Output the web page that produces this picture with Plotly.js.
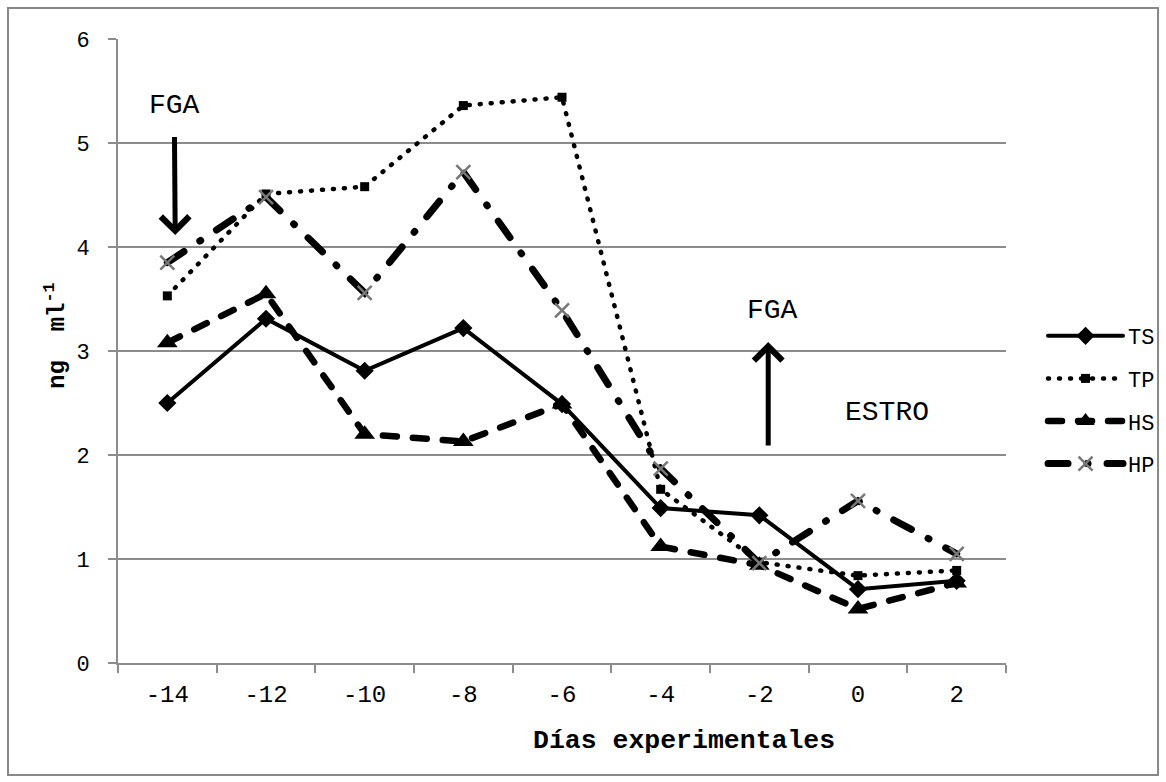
<!DOCTYPE html>
<html>
<head>
<meta charset="utf-8">
<script src="https://cdn.plot.ly/plotly-3.0.1.min.js"></script>
<style>
  html, body { margin: 0; padding: 0; background: #fff; }
  #chart { width: 1166px; height: 782px; }
  .scatterlayer path.js-line, .legend path.js-line { stroke-linecap: round !important; }
</style>
</head>
<body>
<div id="chart"></div>
<script>
// Days (categories)
const days = ['-14', '-12', '-10', '-8', '-6', '-4', '-2', '0', '2'];
// Series values (ng ml-1)
const TS = [2.50, 3.31, 2.81, 3.22, 2.49, 1.49, 1.42, 0.71, 0.79];
const TP = [3.53, 4.51, 4.58, 5.36, 5.44, 1.67, 0.97, 0.84, 0.89];
const HS = [3.08, 3.55, 2.20, 2.13, 2.49, 1.12, 0.94, 0.52, 0.77];
const HP = [3.85, 4.48, 3.56, 4.72, 3.39, 1.87, 0.96, 1.56, 1.05];
const seriesNames = ['TS', 'TP', 'HS', 'HP'];
const yTicks = [0, 1, 2, 3, 4, 5, 6];

const FONT = 'Liberation Mono, Courier New, monospace';
const GRID = '#8c8c8c';

const traces = [
  { x: days, y: TS, name: seriesNames[0], type: 'scatter', mode: 'lines+markers',
    line: { color: '#000', width: 4, dash: 'solid' },
    marker: { symbol: 'diamond', size: 14, color: '#000' }, legendgroup: 'a' },
  { x: days, y: TP, name: seriesNames[1], type: 'scatter', mode: 'lines+markers',
    line: { color: '#000', width: 4.5, dash: '1px,10px' },
    marker: { symbol: 'square', size: 9, color: '#000' }, legendgroup: 'b' },
  { x: days, y: HS, name: seriesNames[2], type: 'scatter', mode: 'lines+markers',
    line: { color: '#000', width: 6.5, dash: '14px,16px' },
    marker: { symbol: 'triangle-up', size: 18, color: '#000' }, legendgroup: 'c' },
  { x: days, y: HP, name: seriesNames[3], type: 'scatter', mode: 'lines+markers',
    line: { color: '#000', width: 7, dash: '20px,19px,1px,19px' },
    marker: { symbol: 'x-thin', size: 14, color: '#777', line: { color: '#777', width: 2.5 } }, legendgroup: 'd' }
];

const layout = {
  width: 1166, height: 782,
  margin: { l: 118, r: 160, t: 39, b: 119, autoexpand: false },
  paper_bgcolor: '#fff', plot_bgcolor: '#fff',
  showlegend: true,
  legend: {
    x: 1.0417, xanchor: 'left', y: 0.5577, yanchor: 'top',
    font: { family: FONT, size: 22, color: '#000' },
    traceorder: 'grouped', tracegroupgap: 11, itemwidth: 75,
    bgcolor: 'rgba(0,0,0,0)'
  },
  xaxis: {
    type: 'category', tickson: 'boundaries',
    ticks: 'outside', ticklen: 8, tickwidth: 2, tickcolor: GRID,
    showline: true, linecolor: GRID, linewidth: 2,
    showgrid: false, zeroline: false,
    tickfont: { family: FONT, size: 24, color: '#000' },
    ticklabelstandoff: 8,
    range: [-0.5, 8.5]
  },
  yaxis: {
    range: [0, 6], tickvals: yTicks, ticktext: yTicks.map(String),
    ticks: 'outside', ticklen: 8, tickwidth: 2, tickcolor: GRID,
    showline: true, linecolor: GRID, linewidth: 2,
    showgrid: true, gridcolor: GRID, gridwidth: 2, zeroline: false,
    tickfont: { family: FONT, size: 22, color: '#000' },
    ticklabelstandoff: 14
  },
  shapes: [
    { type: 'rect', xref: 'paper', yref: 'paper', x0: -0.1239, x1: 1.1712, y0: -0.1795, y1: 1.0497,
      line: { color: '#888', width: 2 }, fillcolor: 'rgba(0,0,0,0)', layer: 'below' }
  ],
  annotations: [
    { xref: 'paper', yref: 'paper', x: 0.637, y: -0.125, xanchor: 'center', yanchor: 'middle', showarrow: false,
      text: '<b>Días experimentales</b>', font: { family: FONT, size: 26.5, color: '#000' } },
    { xref: 'paper', yref: 'paper', x: -0.071, y: 0.5256, xanchor: 'center', yanchor: 'middle',
      showarrow: false, textangle: -90,
      text: '<b>ng  ml<sup>-1</sup></b>', font: { family: FONT, size: 24, color: '#000' } },
    // FGA (top-left) with its downward arrow
    { xref: 'x', yref: 'y', axref: 'x', ayref: 'y', x: 0.08, y: 4.115, ax: 0.07, ay: 5.356,
      xanchor: 'center', yanchor: 'middle', text: 'FGA', showarrow: true, startstandoff: 14,
      arrowhead: 4, arrowsize: 1.1, arrowwidth: 5, arrowcolor: '#000',
      font: { family: FONT, size: 28, color: '#000' } },
    { xref: 'x', yref: 'y', x: 6.13, y: 3.394, xanchor: 'center', yanchor: 'middle', showarrow: false, text: 'FGA',
      font: { family: FONT, size: 28, color: '#000' } },
    { xref: 'x', yref: 'y', x: 7.29, y: 2.41, xanchor: 'center', yanchor: 'middle', showarrow: false, text: 'ESTRO',
      font: { family: FONT, size: 28, color: '#000' } },
    { xref: 'x', yref: 'y', axref: 'x', ayref: 'y', x: 6.09, y: 3.087, ax: 6.09, ay: 2.077,
      text: '', showarrow: true, arrowhead: 4, arrowsize: 1.1, arrowwidth: 5, arrowcolor: '#000' }
  ]
};

Plotly.newPlot('chart', traces, layout, { displayModeBar: false, staticPlot: true });
</script>
</body>
</html>
